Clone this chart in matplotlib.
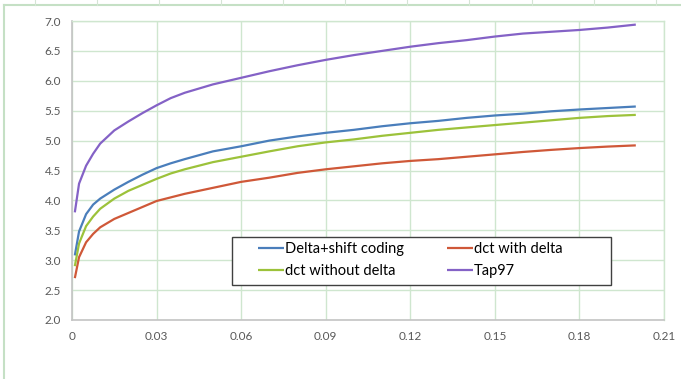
import matplotlib
matplotlib.use("Agg")
import matplotlib.pyplot as plt
from matplotlib.lines import Line2D
from matplotlib.patches import Rectangle

# values
t = [0.001, 0.0025, 0.005, 0.0075, 0.01, 0.015, 0.02, 0.025, 0.03, 0.035, 0.04,
     0.05, 0.06, 0.07, 0.08, 0.09, 0.10, 0.11, 0.12, 0.13, 0.14,
     0.15, 0.16, 0.17, 0.18, 0.19, 0.20]

delta_shift = [3.08, 3.48, 3.77, 3.93, 4.03, 4.18, 4.31, 4.43, 4.54, 4.62, 4.69,
               4.82, 4.905, 5.00, 5.07, 5.13, 5.18, 5.24, 5.29, 5.33, 5.38,
               5.42, 5.45, 5.49, 5.52, 5.545, 5.57]
dct_with_delta = [2.70, 3.05, 3.30, 3.44, 3.55, 3.69, 3.79, 3.89, 3.99, 4.05, 4.11,
                  4.21, 4.31, 4.38, 4.46, 4.52, 4.57, 4.62, 4.66, 4.69, 4.73,
                  4.77, 4.81, 4.845, 4.875, 4.90, 4.92]
dct_without_delta = [2.90, 3.28, 3.57, 3.73, 3.86, 4.03, 4.16, 4.26, 4.36, 4.45, 4.52,
                     4.64, 4.73, 4.82, 4.905, 4.97, 5.02, 5.08, 5.13, 5.18, 5.22,
                     5.26, 5.30, 5.34, 5.38, 5.41, 5.43]
tap97 = [3.80, 4.28, 4.58, 4.78, 4.95, 5.17, 5.32, 5.46, 5.59, 5.71, 5.80,
         5.94, 6.05, 6.16, 6.26, 6.35, 6.43, 6.50, 6.57, 6.63, 6.68,
         6.74, 6.79, 6.82, 6.85, 6.89, 6.94]

series = [
    ("Delta+shift coding", delta_shift, "#4a7ebb"),
    ("dct with delta", dct_with_delta, "#cf5838"),
    ("dct without delta", dct_without_delta, "#9cc23a"),
    ("Tap97", tap97, "#8462c6"),
]

xticks = [0, 0.03, 0.06, 0.09, 0.12, 0.15, 0.18, 0.21]
xticklabels = ["0", "0.03", "0.06", "0.09", "0.12", "0.15", "0.18", "0.21"]
yticks = [2.0, 2.5, 3.0, 3.5, 4.0, 4.5, 5.0, 5.5, 6.0, 6.5, 7.0]

grid_green = "#cfe6cf"
plt.rcParams["font.family"] = ["Lato", "DejaVu Sans"]

W, H = 681, 379
fig = plt.figure(figsize=(W / 100, H / 100), dpi=100)
ax = fig.add_axes([72 / W, 1 - 320 / H, 592 / W, 299 / H])

lines = {}
for name, vals, col in series:
    lines[name], = ax.plot(t, vals, color=col, lw=1.6, solid_capstyle="butt")

ax.set_xlim(0, 0.21)
ax.set_ylim(2.0, 7.0)
ax.set_xticks(xticks)
ax.set_xticklabels(xticklabels)
ax.set_yticks(yticks)
ax.set_yticklabels([f"{v:.1f}" for v in yticks])
ax.tick_params(length=0, labelsize=8.5, colors="#595959", pad=8)
ax.grid(True, color=grid_green, lw=1.0)
ax.set_axisbelow(True)

for side in ("top", "right"):
    ax.spines[side].set_color(grid_green)
    ax.spines[side].set_linewidth(1.0)
for side in ("left", "bottom"):
    ax.spines[side].set_color("#c4c4c4")
    ax.spines[side].set_linewidth(1.2)


def ax_x(px):
    return (px - 72) / 592


def ax_y(py):
    return (320 - py) / 299


# legend box drawn separately so its size matches the reference
ax.add_patch(Rectangle((ax_x(232), ax_y(285)), ax_x(611) - ax_x(232),
                       ax_y(237) - ax_y(285), transform=ax.transAxes,
                       facecolor="white", edgecolor="#404040", lw=1.0, zorder=4))

order = ["Delta+shift coding", "dct without delta", "dct with delta", "Tap97"]
leg = ax.legend([lines[n] for n in order], order, ncol=2,
                loc="upper left", bbox_to_anchor=(ax_x(258), ax_y(242)),
                fontsize=10.5, frameon=False,
                handlelength=1.75, handletextpad=0.1, labelspacing=0.55,
                columnspacing=2.95, borderpad=0, borderaxespad=0)
leg.set_zorder(5)

# outer chart frame with ruler marks
fig.add_artist(Line2D([4 / W, 1], [1 - 5 / H, 1 - 5 / H],
                      transform=fig.transFigure, color="#c5e0c5", lw=1.5))
fig.add_artist(Line2D([4 / W, 4 / W], [0, 1 - 5 / H],
                      transform=fig.transFigure, color="#c5e0c5", lw=1.5))
for xp in [35, 97, 159, 221, 283, 345, 407, 469, 532, 594, 656]:
    fig.add_artist(Line2D([xp / W, xp / W], [1 - 5 / H, 1],
                          transform=fig.transFigure, color="#d5e5d5", lw=0.8))

fig.savefig("out.png", dpi=100)
